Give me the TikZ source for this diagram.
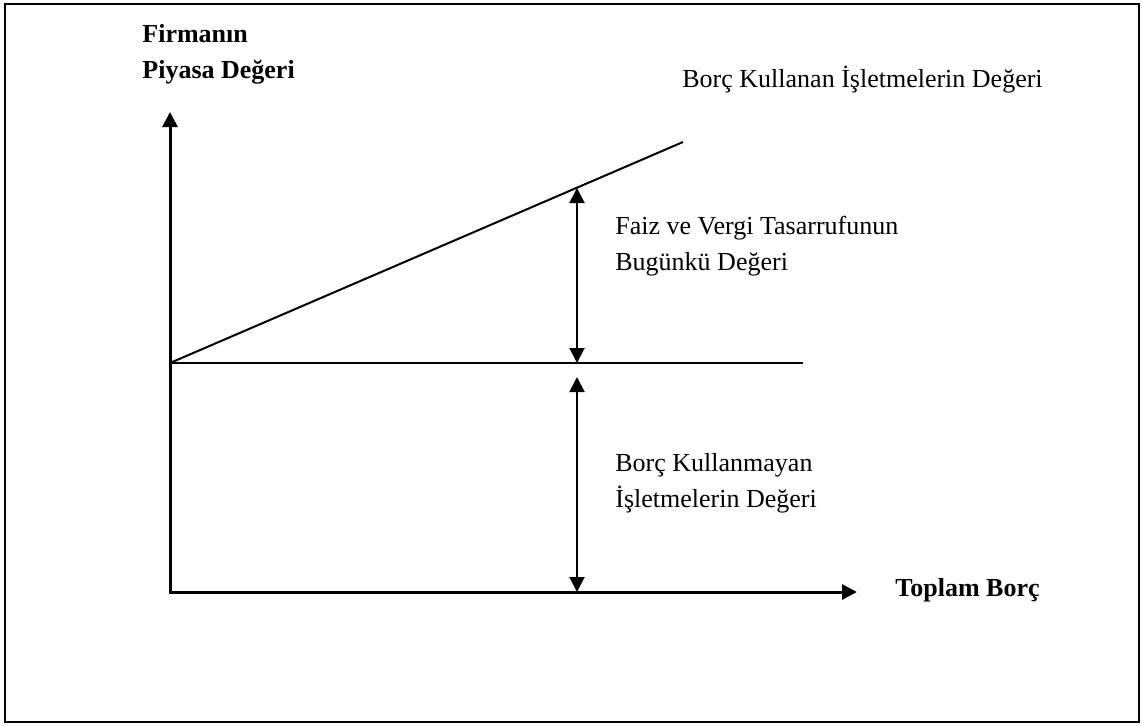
\documentclass[tikz,border=0pt]{standalone}
\usepackage{fontspec}
\setmainfont{Liberation Serif}
\usetikzlibrary{arrows.meta}

\tikzset{
  eksen/.style={line width=1.5pt},
  cizgi/.style={line width=1pt},
  ucok/.style={line width=1pt},
  yazi/.style={font=\fontsize{13}{18}\selectfont,align=left,inner sep=0pt,anchor=west},
  kalin/.style={font=\fontsize{13}{18}\selectfont\bfseries,align=left,inner sep=0pt,anchor=west},
}

\begin{document}
\begin{tikzpicture}[x=0.5pt,y=-0.5pt,>={Triangle[length=7.5pt,width=7.5pt]}]
	\useasboundingbox (0,0) rectangle (1142,725);
	\draw[line width=1pt] (5,4) rectangle (1139,722);

	% eksenler
	\coordinate (O) at (170,592);
	\coordinate (Yust) at (170,112);
	\coordinate (Xson) at (857,592);
	\draw[eksen,<->] (Yust) |- (Xson);

	% dogrular
	\coordinate (Bas) at (170,363);
	\coordinate (Yatay) at (803,363);
	\coordinate (Egik) at (683,142);
	\draw[cizgi] (Bas) -- (Yatay);
	\draw[cizgi] (Bas) -- (Egik);

	% oklar
	\coordinate (U1) at (577,188);
	\coordinate (U2) at (577,363);
	\coordinate (A1) at (577,377);
	\coordinate (A2) at (577,592);
	\draw[ucok,<->] (U1) -- (U2);
	\draw[ucok,<->] (A1) -- (A2);

	% yazilar
	\node (Fi) at (142,54)  [kalin] {Firmanın\\Piyasa Değeri};
	\node (Bk) at (682,80)  [yazi]  {Borç Kullanan İşletmelerin Değeri};
	\node (Fv) at (615,246) [yazi]  {Faiz ve Vergi Tasarrufunun\\Bugünkü Değeri};
	\node (Bm) at (615,483) [yazi]  {Borç Kullanmayan\\İşletmelerin Değeri};
	\node (Tb) at (895,590) [kalin] {Toplam Borç};
\end{tikzpicture}
\end{document}
